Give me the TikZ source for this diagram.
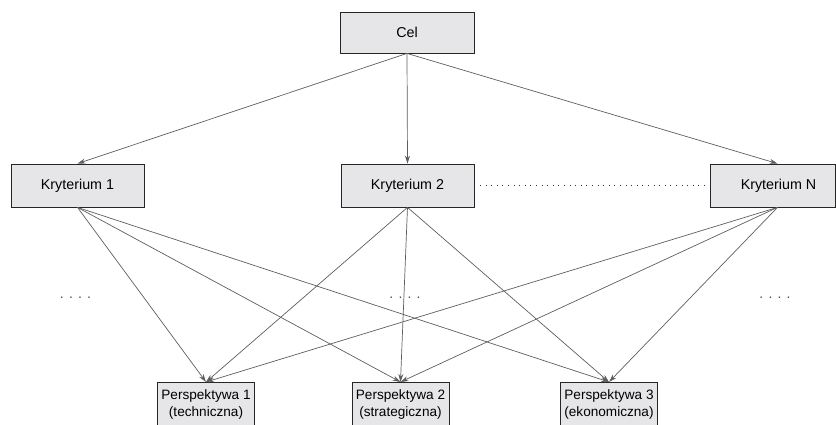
\documentclass[tikz,border=0pt]{standalone}
\usepackage{fontspec}
\setmainfont{Liberation Sans}
\usetikzlibrary{arrows.meta}
\definecolor{boxfill}{HTML}{E6E6E8}
\definecolor{linegray}{HTML}{5E5E5E}
\begin{document}
\begin{tikzpicture}[x=1pt,y=-1pt,
  box/.style={draw=black!85, fill=boxfill, line width=0.8pt, inner sep=0pt, align=center},
  topbox/.style={box, font=\fontsize{14.3}{16}\selectfont, minimum width=133, minimum height=43},
  perbox/.style={box, font=\fontsize{13.6}{17}\selectfont, inner xsep=4pt, minimum height=44, anchor=north},
  conn/.style={draw=linegray, line width=0.7pt, -{Stealth[length=8pt,width=5pt]}},
  dotline/.style={draw=black!80, line width=0.9pt, dash pattern=on 1pt off 4.6pt},
  dots/.style={font=\fontsize{14}{14}\selectfont, text=black!70, inner sep=0pt}]
\useasboundingbox (0,0) rectangle (836,424);
% top
\node[topbox, minimum width=134, minimum height=41] (cel) at (407,32.5) {Cel};
% criteria
\node[topbox] (k1) at (77.5,185.5) {Kryterium 1};
\node[topbox] (k2) at (407.5,185.5) {Kryterium 2};
\node[topbox, minimum width=125] (kn) at (772.5,185.5) {\hspace*{12pt}Kryterium N};
% perspectives
\node[perbox] (p1) at (206,382) {Perspektywa 1\\(techniczna)};
\node[perbox] (p2) at (400.5,382) {Perspektywa 2\\(strategiczna)};
\node[perbox] (p3) at (609,382) {Perspektywa 3\\(ekonomiczna)};
% dots
\node[dots] (d1) at (75.5,297.5) {. . . .};
\node[dots] (d2) at (405,297.5) {. . . .};
\node[dots] (d3) at (775,297.5) {. . . .};
% goal to criteria
\draw[conn] (cel.south) -- (k1.north);
\draw[conn] (cel.south) -- (k2.north);
\draw[conn] (cel.south) -- ([xshift=5pt]kn.north);
% dotted link
\draw[dotline] (k2.east) -- (kn.west);
% criteria to perspectives
\foreach \k in {k1,k2} {
  \foreach \p in {p1,p2,p3} {
    \draw[conn] (\k.south) -- (\p.north);
  }
}
\foreach \p in {p1,p2,p3} {
  \draw[conn] ([xshift=5pt]kn.south) -- (\p.north);
}
\end{tikzpicture}
\end{document}
